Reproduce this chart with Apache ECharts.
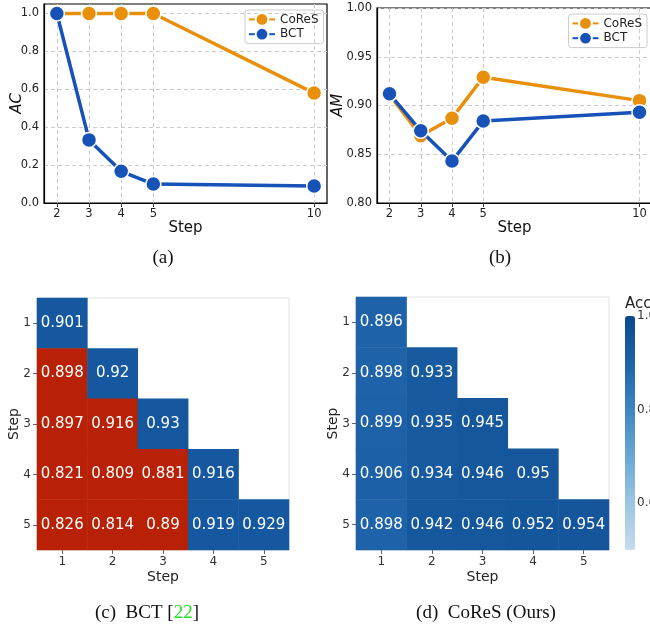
<!DOCTYPE html>
<html>
<head>
<meta charset="utf-8">
<script src="https://cdn.jsdelivr.net/npm/echarts@6/dist/echarts.min.js"></script>
<style>
  html, body { margin: 0; padding: 0; background: #fff; }
  #main { width: 650px; height: 628px; }
</style>
</head>
<body>
<div id="main"></div>
<script>
// line charts (a) and (b)
const steps = [2, 3, 4, 5, 10];
const acCores = [1.0, 1.0, 1.0, 1.0, 0.58];
const acBct = [1.0, 0.333, 0.167, 0.10, 0.09];
const amCores = [0.911, 0.869, 0.887, 0.929, 0.905];
const amBct = [0.912, 0.874, 0.843, 0.884, 0.893];
const acTicks = [0, 0.2, 0.4, 0.6, 0.8, 1.0];

// heatmaps (c) and (d), row = step of query, col = step of gallery
const hmSteps = ['1', '2', '3', '4', '5'];
const bctAcc = [
  [0.901],
  [0.898, 0.92],
  [0.897, 0.916, 0.93],
  [0.821, 0.809, 0.881, 0.916],
  [0.826, 0.814, 0.89, 0.919, 0.929]
];
// 1 = compatible (blue), 0 = not compatible (red)
const bctCompat = [
  [1],
  [0, 1],
  [0, 0, 1],
  [0, 0, 0, 1],
  [0, 0, 0, 1, 1]
];
const coresAcc = [
  [0.896],
  [0.898, 0.933],
  [0.899, 0.935, 0.945],
  [0.906, 0.934, 0.946, 0.95],
  [0.898, 0.942, 0.946, 0.952, 0.954]
];
const cbTicks = [0.6, 0.8, 1.0];

const ORANGE = '#e8900c';
const BLUE = '#1652b8';
const FONT = 'DejaVu Sans';

const chart = echarts.init(document.getElementById('main'));

function pairs(xs, ys) {
  return xs.map((x, i) => [x, ys[i]]);
}

function lineSeries(name, color, data, idx) {
  return {
    name: name,
    type: 'line',
    xAxisIndex: idx,
    yAxisIndex: idx,
    data: data,
    symbol: 'circle',
    symbolSize: 15,
    lineStyle: { color: color, width: 3.5 },
    itemStyle: { color: color, borderColor: '#fff', borderWidth: 1.5 },
    emphasis: { disabled: true },
    z: name === 'BCT' ? 3 : 2
  };
}

function heatData(acc, compat) {
  const out = [];
  acc.forEach((row, r) => {
    row.forEach((v, c) => {
      const item = { value: [c, r, v] };
      if (compat) item.itemStyle = { color: compat[r][c] ? '#1558a0' : '#b82106' };
      out.push(item);
    });
  });
  return out;
}

function legendAt(pos) {
  return Object.assign({
    data: ['CoReS', 'BCT'], orient: 'vertical',
    itemWidth: 26, itemHeight: 16, itemGap: 0, padding: [2, 5, 2, 3],
    borderColor: '#cccccc', borderWidth: 1, borderRadius: 3,
    textStyle: { fontFamily: FONT, fontSize: 12, color: '#222' },
    selectedMode: false
  }, pos);
}

const gridLine = { show: true, lineStyle: { color: '#cccccc', type: [4, 3], width: 1 } };

function lineXAxis(idx) {
  return {
    type: 'value', gridIndex: idx, min: 1.6, max: 10.4,
    name: 'Step', nameLocation: 'middle', nameGap: 12,
    nameTextStyle: { fontFamily: FONT, fontSize: 15, color: '#111' },
    axisLine: { lineStyle: { color: '#000', width: 1.2 } },
    axisTick: { show: true, length: 4, customValues: steps, lineStyle: { color: '#333' } },
    axisLabel: { customValues: steps, fontFamily: FONT, fontSize: 11.5, color: '#222', margin: 5 },
    splitLine: gridLine
  };
}

const option = {
  animation: false,
  backgroundColor: '#fff',
  grid: [
    { left: 44, top: 4, width: 283, height: 199, show: true, borderColor: '#000', borderWidth: 1.2, outerBoundsMode: 'none' },
    { left: 377, top: 8, width: 275, height: 195, show: true, borderColor: '#000', borderWidth: 1.2, outerBoundsMode: 'none' },
    { left: 37, top: 298, width: 252, height: 252, show: true, borderColor: '#e3e3e3', borderWidth: 1, outerBoundsMode: 'none' },
    { left: 356, top: 297, width: 253, height: 253, show: true, borderColor: '#e3e3e3', borderWidth: 1, outerBoundsMode: 'none' },
    { left: 625, top: 316, width: 10, height: 234, outerBoundsMode: 'none' }
  ],
  legend: [legendAt({ left: 245, top: 10 }), legendAt({ right: 3, top: 14 })],
  xAxis: [
    lineXAxis(0),
    lineXAxis(1),
    {
      type: 'category', gridIndex: 2, data: hmSteps,
      name: 'Step', nameLocation: 'middle', nameGap: 20,
      nameTextStyle: { fontFamily: FONT, fontSize: 14, color: '#222' },
      axisLine: { show: false },
      axisTick: { show: true, alignWithLabel: true, length: 4, lineStyle: { color: '#666' } },
      axisLabel: { fontFamily: FONT, fontSize: 12, color: '#333', margin: 6 },
      splitLine: { show: false }
    },
    {
      type: 'category', gridIndex: 3, data: hmSteps,
      name: 'Step', nameLocation: 'middle', nameGap: 20,
      nameTextStyle: { fontFamily: FONT, fontSize: 14, color: '#222' },
      axisLine: { show: false },
      axisTick: { show: true, alignWithLabel: true, length: 4, lineStyle: { color: '#666' } },
      axisLabel: { fontFamily: FONT, fontSize: 12, color: '#333', margin: 6 },
      splitLine: { show: false }
    },
    { type: 'value', gridIndex: 4, show: false, min: 0, max: 1 }
  ],
  yAxis: [
    {
      type: 'value', gridIndex: 0, min: 0, max: 1.05,
      name: 'AC', nameLocation: 'middle', nameGap: 19, nameMoveOverlap: false,
      nameTextStyle: { fontFamily: FONT, fontSize: 15, fontStyle: 'italic', color: '#111' },
      axisLine: { show: true, lineStyle: { color: '#000', width: 1.2 } },
      axisTick: { show: false, customValues: acTicks },
      axisLabel: { customValues: acTicks, fontFamily: FONT, fontSize: 11.5, color: '#222', margin: 5,
        formatter: v => v.toFixed(1) },
      splitLine: gridLine
    },
    {
      type: 'value', gridIndex: 1, min: 0.8, max: 1.0, interval: 0.05,
      name: 'AM', nameLocation: 'middle', nameGap: 31, nameMoveOverlap: false,
      nameTextStyle: { fontFamily: FONT, fontSize: 15, fontStyle: 'italic', color: '#111' },
      axisLine: { show: true, lineStyle: { color: '#000', width: 1.2 } },
      axisTick: { show: false },
      axisLabel: { fontFamily: FONT, fontSize: 11.5, color: '#222', margin: 5,
        formatter: v => v.toFixed(2) },
      splitLine: gridLine
    },
    {
      type: 'category', gridIndex: 2, data: hmSteps, inverse: true,
      name: 'Step', nameLocation: 'middle', nameGap: 16, nameMoveOverlap: false,
      nameTextStyle: { fontFamily: FONT, fontSize: 14, color: '#222' },
      axisLine: { show: false },
      axisTick: { show: true, alignWithLabel: true, length: 4, lineStyle: { color: '#666' } },
      axisLabel: { fontFamily: FONT, fontSize: 12, color: '#333', margin: 6 },
      splitLine: { show: false }
    },
    {
      type: 'category', gridIndex: 3, data: hmSteps, inverse: true,
      name: 'Step', nameLocation: 'middle', nameGap: 16, nameMoveOverlap: false,
      nameTextStyle: { fontFamily: FONT, fontSize: 14, color: '#222' },
      axisLine: { show: false },
      axisTick: { show: true, alignWithLabel: true, length: 4, lineStyle: { color: '#666' } },
      axisLabel: { fontFamily: FONT, fontSize: 12, color: '#333', margin: 6 },
      splitLine: { show: false }
    },
    {
      type: 'value', gridIndex: 4, min: 0.5, max: 1.0, position: 'right',
      axisLine: { show: false },
      axisTick: { show: false, customValues: cbTicks },
      axisLabel: { customValues: cbTicks, fontFamily: FONT, fontSize: 12, color: '#333', margin: 2,
        formatter: v => v.toFixed(1) },
      splitLine: { show: false }
    }
  ],
  visualMap: {
    type: 'continuous', seriesIndex: 5, min: 0.5, max: 1.0,
    left: 625, top: 316, itemWidth: 10, itemHeight: 234, padding: 0,
    calculable: false, realtime: false, hoverLink: false,
    text: null, showLabel: false,
    inRange: { color: ['#c6dbef', '#9cc5e2', '#6aa7d4', '#3e86c2', '#1d62a8', '#0c4a90'] }
  },
  graphic: [
    { type: 'text', x: 163, y: 258, style: { text: '(a)', fontFamily: 'Liberation Serif', fontSize: 19, fill: '#111', align: 'center', verticalAlign: 'middle' } },
    { type: 'text', x: 500, y: 258, style: { text: '(b)', fontFamily: 'Liberation Serif', fontSize: 19, fill: '#111', align: 'center', verticalAlign: 'middle' } },
    { type: 'text', x: 147, y: 613, style: {
        text: '(c)  BCT [{g|22}]', fontFamily: 'Liberation Serif', fontSize: 19, fill: '#111', align: 'center', verticalAlign: 'middle',
        rich: { g: { fill: '#22e022', fontFamily: 'Liberation Serif', fontSize: 19 } } } },
    { type: 'text', x: 486, y: 613, style: { text: '(d)  CoReS (Ours)', fontFamily: 'Liberation Serif', fontSize: 19, fill: '#111', align: 'center', verticalAlign: 'middle' } },
    { type: 'text', x: 625, y: 304, style: { text: 'Acc', fontFamily: FONT, fontSize: 15, fill: '#222', align: 'left', verticalAlign: 'middle' } }
  ],
  series: [
    lineSeries('CoReS', ORANGE, pairs(steps, acCores), 0),
    lineSeries('BCT', BLUE, pairs(steps, acBct), 0),
    lineSeries('CoReS', ORANGE, pairs(steps, amCores), 1),
    lineSeries('BCT', BLUE, pairs(steps, amBct), 1),
    {
      type: 'heatmap', xAxisIndex: 2, yAxisIndex: 2,
      data: heatData(bctAcc, bctCompat),
      label: { show: true, formatter: p => String(p.value[2]), color: '#fff', fontFamily: FONT, fontSize: 15 },
      emphasis: { disabled: true }
    },
    {
      type: 'heatmap', xAxisIndex: 3, yAxisIndex: 3,
      data: heatData(coresAcc, null),
      label: { show: true, formatter: p => String(p.value[2]), color: '#fff', fontFamily: FONT, fontSize: 15 },
      emphasis: { disabled: true }
    }
  ]
};

chart.setOption(option);
</script>
</body>
</html>
